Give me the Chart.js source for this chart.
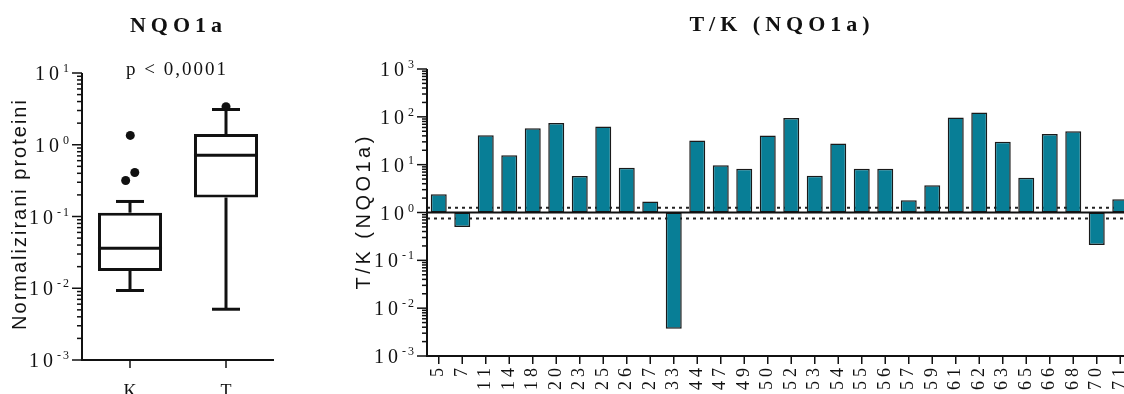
<!DOCTYPE html>
<html>
<head>
<meta charset="utf-8">
<script src="https://cdn.jsdelivr.net/npm/chart.js@4.4.1/dist/chart.umd.min.js"></script>
<style>
  body { margin: 0; background: #fff; overflow: hidden; width: 1124px; height: 394px; position: relative; }
  canvas { position: absolute; top: 0; }
  #boxCanvas { left: 0; }
  #barCanvas { left: 300px; }
</style>
</head>
<body>
<canvas id="boxCanvas" width="290" height="394"></canvas>
<canvas id="barCanvas" width="840" height="394"></canvas>
<script>
// box plot (left)
const groups = ["K", "T"];
const q1 = [0.0174, 0.184];
const medians = [0.036, 0.716];
const q3 = [0.113, 1.41];
const whiskerLow = [0.0093, 0.0051];
const whiskerHigh = [0.162, 3.1];
const outlierGroup = [0, 0, 0, 1];
const outlierValues = [1.35, 0.318, 0.41, 3.38];
const outlierJitter = [0.003, -0.045, 0.05, 0];
const pValueText = "p < 0,0001";

// T/K ratios (right)
const samples = ["5", "7", "11", "14", "18", "20", "23", "25", "26", "27", "33", "44", "47", "49", "50",
  "52", "53", "54", "55", "56", "57", "59", "61", "62", "63", "65", "66", "68", "70", "71"];
const ratios = [2.4, 0.5, 41, 15.7, 58, 74, 5.8, 63, 8.6, 1.7, 0.0037, 32, 9.7, 8.2, 40.5,
  95, 5.9, 27.6, 8.2, 8.2, 1.8, 3.7, 97, 123, 30, 5.3, 44, 50, 0.21, 1.9];
const cutoffs = [1.25, 0.75];

const SERIF = '"Liberation Serif", "Times New Roman", serif';
const SANS = '"Liberation Sans", Arial, sans-serif';
const INK = "#111";
const TEAL = "#087E96";

function spacedWidth(ctx, text, sp) {
  const chars = [...text];
  return chars.reduce((a, c) => a + ctx.measureText(c).width, 0) + sp * (chars.length - 1);
}

function spacedText(ctx, text, x, y, sp, align) {
  const chars = [...text];
  const total = spacedWidth(ctx, text, sp);
  let cx = align === "center" ? x - total / 2 : align === "right" ? x - total : x;
  ctx.textAlign = "left";
  chars.forEach((c) => {
    ctx.fillText(c, cx, y);
    cx += ctx.measureText(c).width + sp;
  });
}

function drawPow10(ctx, e, xRight, yc) {
  ctx.fillStyle = INK;
  ctx.textBaseline = "alphabetic";
  ctx.font = "12px " + SERIF;
  const expStr = e < 0 ? "-" + (-e) : String(e);
  const ew = spacedWidth(ctx, expStr, 2);
  spacedText(ctx, expStr, xRight, yc - 1, 2, "right");
  ctx.font = "20px " + SERIF;
  spacedText(ctx, "10", xRight - ew - 4, yc + 7, 4, "right");
}

function drawLogAxis(chart, minExp, maxExp) {
  const { ctx, chartArea, scales } = chart;
  const y = scales.y;
  const x0 = chartArea.left;
  ctx.save();
  ctx.strokeStyle = INK;
  ctx.lineWidth = 1.5;
  for (let e = minExp; e <= maxExp; e++) {
    for (let k = 1; k <= 9; k++) {
      if (e === maxExp && k > 1) break;
      const py = y.getPixelForValue(k * Math.pow(10, e));
      const len = k === 1 ? 10 : 5;
      ctx.beginPath();
      ctx.moveTo(x0 - len, py);
      ctx.lineTo(x0, py);
      ctx.stroke();
    }
    drawPow10(ctx, e, x0 - 13, y.getPixelForValue(Math.pow(10, e)));
  }
  ctx.lineWidth = 2;
  ctx.beginPath();
  ctx.moveTo(x0, chartArea.top);
  ctx.lineTo(x0, chartArea.bottom);
  ctx.lineTo(chartArea.right, chartArea.bottom);
  ctx.stroke();
  ctx.restore();
}

function drawXTicks(chart, n) {
  const { ctx, chartArea, scales } = chart;
  ctx.save();
  ctx.strokeStyle = INK;
  ctx.lineWidth = 1.5;
  for (let i = 0; i < n; i++) {
    const px = scales.x.getPixelForValue(i);
    ctx.beginPath();
    ctx.moveTo(px, chartArea.bottom);
    ctx.lineTo(px, chartArea.bottom + 8);
    ctx.stroke();
  }
  ctx.restore();
}

function drawTitle(ctx, text, x, y) {
  ctx.save();
  ctx.fillStyle = INK;
  ctx.font = "bold 22px " + SERIF;
  ctx.textBaseline = "middle";
  spacedText(ctx, text, x, y, 5, "center");
  ctx.restore();
}

function drawYTitle(ctx, text, x, y, sp) {
  ctx.save();
  ctx.fillStyle = INK;
  ctx.font = "20px " + SANS;
  ctx.textBaseline = "middle";
  ctx.translate(x, y);
  ctx.rotate(-Math.PI / 2);
  spacedText(ctx, text, 0, 0, sp, "center");
  ctx.restore();
}

const boxPlugin = {
  id: "boxPlot",
  afterDatasetsDraw(chart) {
    const { ctx, scales } = chart;
    const ys = scales.y, xs = scales.x;
    const meta = chart.getDatasetMeta(0);
    ctx.save();
    ctx.strokeStyle = INK;
    ctx.lineWidth = 3;
    groups.forEach((g, i) => {
      const bar = meta.data[i];
      const cx = bar.x, hw = bar.width / 2;
      const line = (xa, ya, xb, yb) => {
        ctx.beginPath(); ctx.moveTo(xa, ya); ctx.lineTo(xb, yb); ctx.stroke();
      };
      line(cx - hw, ys.getPixelForValue(medians[i]), cx + hw, ys.getPixelForValue(medians[i]));
      line(cx, ys.getPixelForValue(q3[i]), cx, ys.getPixelForValue(whiskerHigh[i]));
      line(cx, ys.getPixelForValue(q1[i]), cx, ys.getPixelForValue(whiskerLow[i]));
      line(cx - 14, ys.getPixelForValue(whiskerHigh[i]), cx + 14, ys.getPixelForValue(whiskerHigh[i]));
      line(cx - 14, ys.getPixelForValue(whiskerLow[i]), cx + 14, ys.getPixelForValue(whiskerLow[i]));
    });
    ctx.fillStyle = INK;
    outlierValues.forEach((v, j) => {
      const px = xs.getPixelForValue(outlierGroup[j] + outlierJitter[j]);
      ctx.beginPath();
      ctx.arc(px, ys.getPixelForValue(v), 4.5, 0, Math.PI * 2);
      ctx.fill();
    });
    ctx.restore();
  },
  afterDraw(chart) {
    const { ctx, chartArea, scales } = chart;
    drawLogAxis(chart, -3, 1);
    drawXTicks(chart, groups.length);
    ctx.save();
    ctx.fillStyle = INK;
    ctx.font = "18px " + SERIF;
    ctx.textBaseline = "top";
    groups.forEach((g, i) => {
      spacedText(ctx, g, scales.x.getPixelForValue(i), chartArea.bottom + 23, 0, "center");
    });
    ctx.font = "19px " + SERIF;
    ctx.textBaseline = "middle";
    spacedText(ctx, pValueText, 176, 70, 2, "center");
    ctx.restore();
    drawTitle(ctx, "NQO1a", 176, 26);
    drawYTitle(ctx, "Normalizirani proteini", 20, 215, 2);
  }
};

new Chart(document.getElementById("boxCanvas"), {
  type: "bar",
  data: {
    labels: groups,
    datasets: [{
      data: groups.map((g, i) => [q1[i], q3[i]]),
      backgroundColor: "#fff",
      borderColor: INK,
      borderWidth: 3,
      borderSkipped: false,
      barPercentage: 0.667,
      categoryPercentage: 1
    }]
  },
  options: {
    responsive: false,
    animation: false,
    events: [],
    layout: { padding: { left: 82, right: 16, top: 73, bottom: 34 } },
    scales: {
      x: { display: false },
      y: { type: "logarithmic", display: false, min: 0.001, max: 10 }
    },
    plugins: { legend: { display: false }, tooltip: { enabled: false } }
  },
  plugins: [boxPlugin]
});

const ratioPlugin = {
  id: "ratioBars",
  beforeDatasetsDraw(chart) {
    const { ctx, chartArea, scales } = chart;
    ctx.save();
    ctx.strokeStyle = "#222";
    ctx.lineWidth = 2;
    ctx.setLineDash([3, 4]);
    cutoffs.forEach((c) => {
      const py = scales.y.getPixelForValue(c);
      ctx.beginPath();
      ctx.moveTo(chartArea.left, py);
      ctx.lineTo(chartArea.right, py);
      ctx.stroke();
    });
    ctx.restore();
  },
  afterDatasetsDraw(chart) {
    const { ctx, chartArea, scales } = chart;
    const py = scales.y.getPixelForValue(1);
    ctx.save();
    ctx.strokeStyle = INK;
    ctx.lineWidth = 2;
    ctx.beginPath();
    ctx.moveTo(chartArea.left, py);
    ctx.lineTo(chartArea.right, py);
    ctx.stroke();
    ctx.restore();
  },
  afterDraw(chart) {
    const { ctx, chartArea, scales } = chart;
    drawLogAxis(chart, -3, 3);
    drawXTicks(chart, samples.length);
    ctx.save();
    ctx.fillStyle = INK;
    ctx.font = "18px " + SERIF;
    ctx.textBaseline = "middle";
    samples.forEach((s, i) => {
      ctx.save();
      ctx.translate(scales.x.getPixelForValue(i), chartArea.bottom + 12);
      ctx.rotate(-Math.PI / 2);
      spacedText(ctx, s, 0, 0, 4, "right");
      ctx.restore();
    });
    ctx.restore();
    drawTitle(ctx, "T/K (NQO1a)", (chartArea.left + chartArea.right) / 2, 25);
    drawYTitle(ctx, "T/K (NQO1a)", 64, 213, 3.5);
  }
};

new Chart(document.getElementById("barCanvas"), {
  type: "bar",
  data: {
    labels: samples,
    datasets: [{
      data: ratios.map((v) => [1, v]),
      backgroundColor: TEAL,
      borderColor: "#1a1a1a",
      borderWidth: 1.5,
      borderSkipped: false,
      barPercentage: 0.68,
      categoryPercentage: 1
    }]
  },
  options: {
    responsive: false,
    animation: false,
    events: [],
    layout: { padding: { left: 127, right: 8, top: 69, bottom: 38 } },
    scales: {
      x: { display: false },
      y: { type: "logarithmic", display: false, min: 0.001, max: 1000 }
    },
    plugins: { legend: { display: false }, tooltip: { enabled: false } }
  },
  plugins: [ratioPlugin]
});
</script>
</body>
</html>
